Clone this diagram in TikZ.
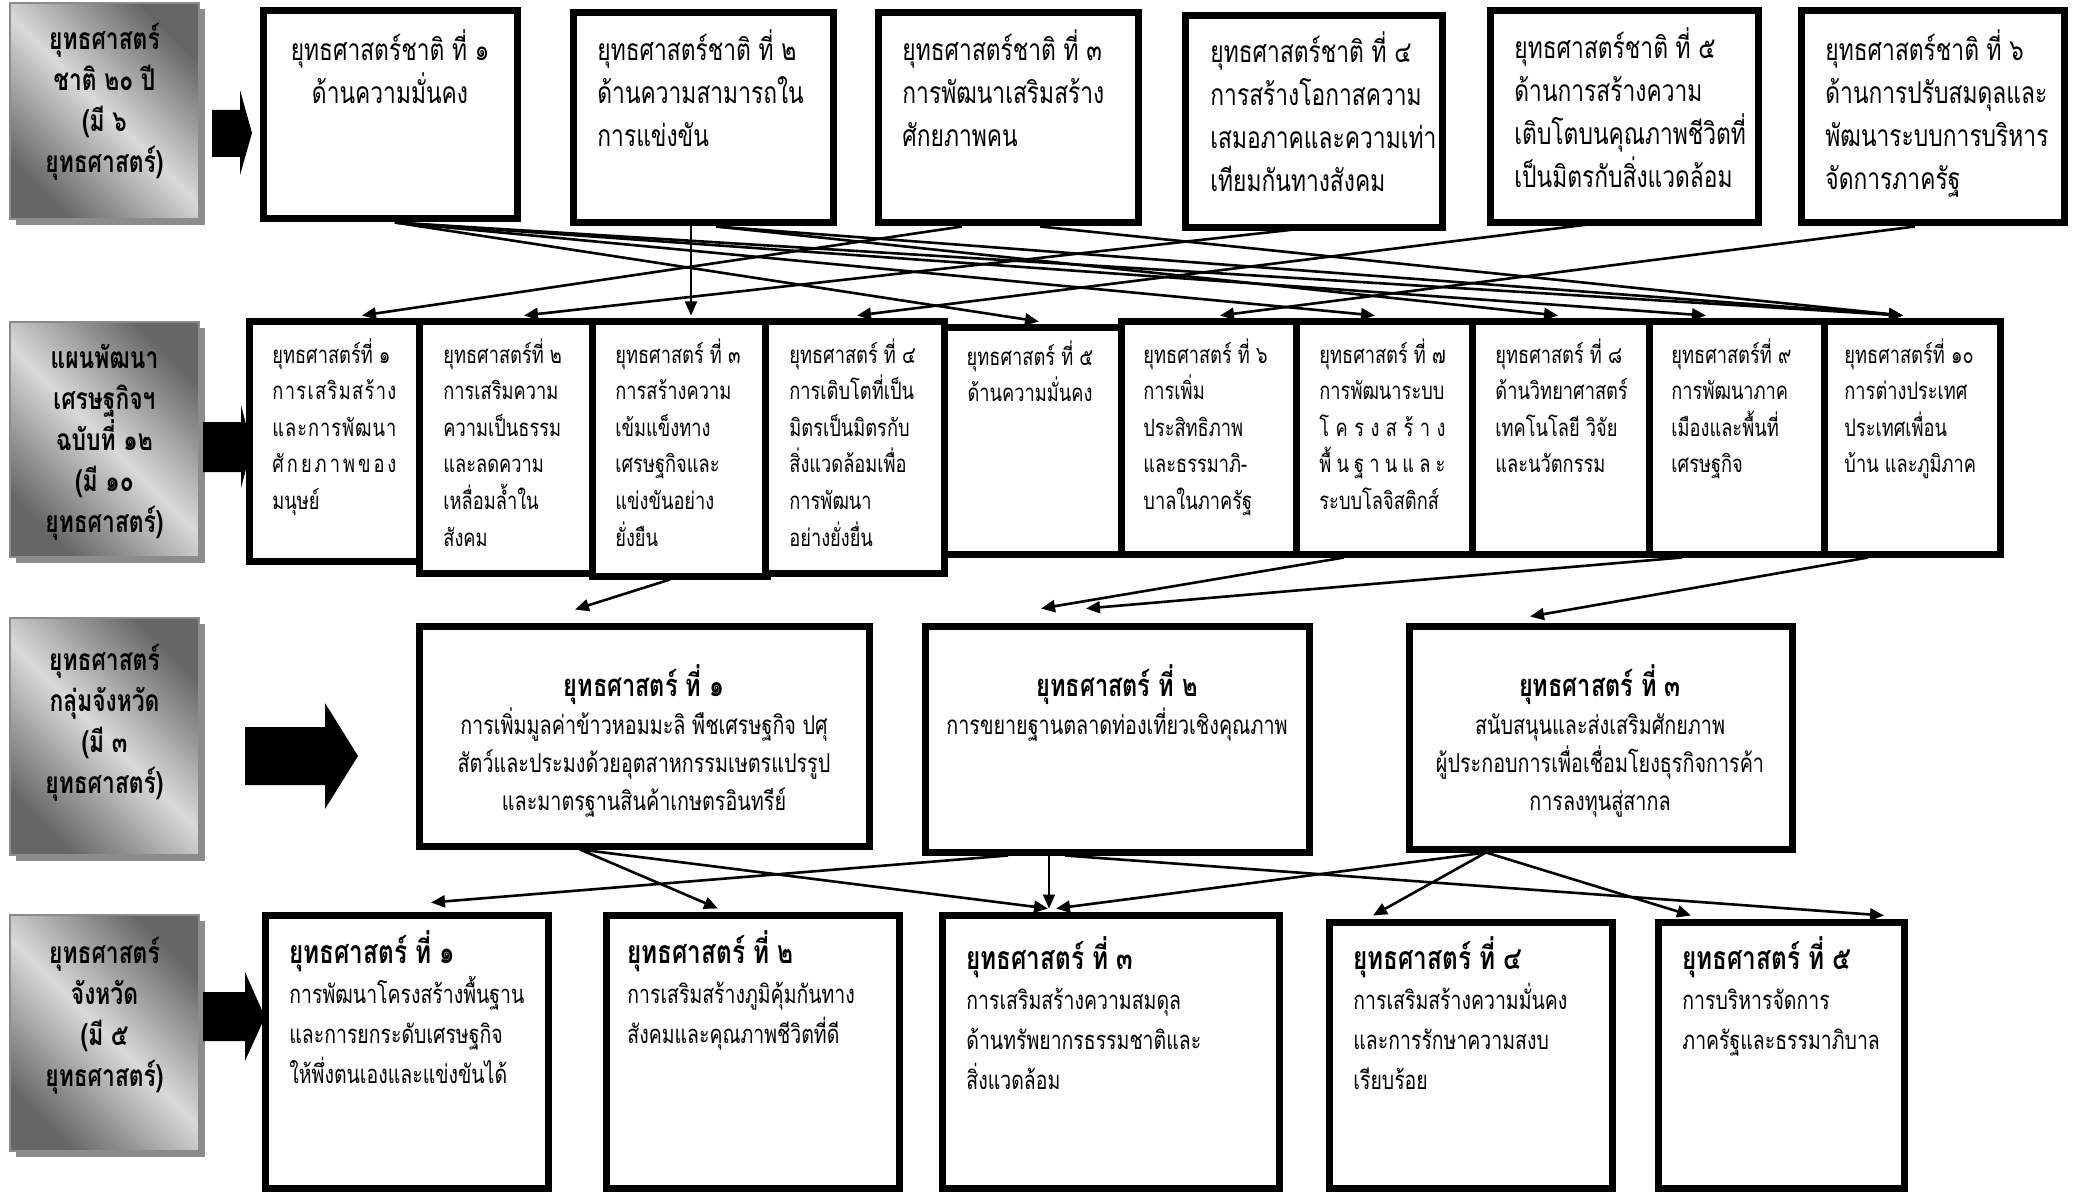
\documentclass[tikz,border=0pt]{standalone}
\usepackage{fontspec}
\newfontfamily\thai[Script=Thai,FakeStretch=0.76]{Loma}
\usetikzlibrary{arrows.meta,calc,fit,shadows}
\newcommand\jl[2]{\hbox to #1{#2}}
\newcommand\ttlA[1]{{\bfseries\fontsize{15.5}{19}\selectfont #1}}
\newcommand\ttlB[1]{{\bfseries\fontsize{16}{20}\selectfont #1}}
\begin{document}
\begin{tikzpicture}[x=0.5pt,y=-0.5pt,
  box/.style={draw=black, line width=3.5pt, fill=white, inner sep=0pt,
    drop shadow={shadow xshift=1pt, shadow yshift=-1pt, fill=black!50, opacity=1}},
  lab/.style={draw=black!45, line width=0.6pt, inner sep=0pt,
    top color=black!60, bottom color=black!60, middle color=black!15, shading angle=-45},
  labshadow/.style={fill=black!45},
  labtxt/.style={inner sep=0pt, align=center, font=\thai\bfseries\fontsize{15}{20.5}\selectfont},
  t1/.style={inner sep=0pt, anchor=north west, align=left, font=\thai\fontsize{15}{21.5}\selectfont},
  t2/.style={inner sep=0pt, anchor=north west, align=left, font=\thai\fontsize{12}{18.3}\selectfont},
  t3/.style={inner sep=0pt, anchor=north, align=center, font=\thai\fontsize{13}{19}\selectfont},
  t4/.style={inner sep=0pt, anchor=north west, align=left, font=\thai\fontsize{12.8}{20}\selectfont},
  conn/.style={line width=1.3pt, -{Triangle[length=7pt,width=6pt]}},
  thinconn/.style={line width=0.8pt, -{Triangle[length=7pt,width=6pt]}},
  blk/.style={fill=black}]
\fill[white] (0,0) rectangle (2080,1192);
\useasboundingbox (0,0) rectangle (2080,1192);

% ---- left labels ----
\fill[labshadow] (16,9) rectangle (205,225);
\fill[labshadow] (16,328) rectangle (205,563);
\fill[labshadow] (16,624) rectangle (205,861);
\fill[labshadow] (16,921) rectangle (205,1157);
\node[lab, fit={(10,3) (199,219)}] (l1) {};
\node[lab, fit={(10,322) (199,557)}] (l2) {};
\node[lab, fit={(10,618) (199,855)}] (l3) {};
\node[lab, fit={(10,915) (199,1151)}] (l4) {};
\node[labtxt] (l1t) at ($(l1)+(0,-9)$) {ยุทธศาสตร์\\ชาติ ๒๐ ปี\\(มี ๖\\ยุทธศาสตร์)};
\node[labtxt] (l2t) at ($(l2)+(0,3)$) {แผนพัฒนา\\เศรษฐกิจฯ\\ฉบับที่ ๑๒\\(มี ๑๐\\ยุทธศาสตร์)};
\node[labtxt] (l3t) at ($(l3)+(0,-14)$) {ยุทธศาสตร์\\กลุ่มจังหวัด\\(มี ๓\\ยุทธศาสตร์)};
\node[labtxt] (l4t) at ($(l4)+(0,-17)$) {ยุทธศาสตร์\\จังหวัด\\(มี ๕\\ยุทธศาสตร์)};

% ---- block arrows ----
\fill[blk] (212,110) -- (240,110) -- (240,90) -- (252,133) -- (240,175) -- (240,157) -- (212,157) -- cycle;
\fill[blk] (203,422) -- (241,422) -- (241,405) -- (252,447) -- (241,488) -- (241,472) -- (203,472) -- cycle;
\fill[blk] (245,727) -- (325,727) -- (325,703) -- (358,756) -- (325,809) -- (325,785) -- (245,785) -- cycle;
\fill[blk] (203,992) -- (245,992) -- (245,972) -- (265,1017) -- (245,1061) -- (245,1041) -- (203,1041) -- cycle;

% ---- row 1 ----
\node[box, fit={(263,11) (517,219)}] (b1) {};
\node[box, fit={(573,13) (833,223)}] (b2) {};
\node[box, fit={(878,13) (1138,223)}] (b3) {};
\node[box, fit={(1185,16) (1442,228)}] (b4) {};
\node[box, fit={(1490,11) (1758,223)}] (b5) {};
\node[box, fit={(1801,11) (2064,223)}] (b6) {};
\node[t1, anchor=north, align=center] (b1t) at (390,29) {ยุทธศาสตร์ชาติ ที่ ๑\\ด้านความมั่นคง};
\node[t1] (b2t) at (597,29) {ยุทธศาสตร์ชาติ ที่ ๒\\ด้านความสามารถใน\\การแข่งขัน};
\node[t1] (b3t) at (902,29) {ยุทธศาสตร์ชาติ ที่ ๓\\การพัฒนาเสริมสร้าง\\ศักยภาพคน};
\node[t1] (b4t) at (1210,31) {ยุทธศาสตร์ชาติ ที่ ๔\\การสร้างโอกาสความ\\เสมอภาคและความเท่า\\เทียมกันทางสังคม};
\node[t1] (b5t) at (1514,27) {ยุทธศาสตร์ชาติ ที่ ๕\\ด้านการสร้างความ\\เติบโตบนคุณภาพชีวิตที่\\เป็นมิตรกับสิ่งแวดล้อม};
\node[t1] (b6t) at (1825,29) {ยุทธศาสตร์ชาติ ที่ ๖\\ด้านการปรับสมดุลและ\\พัฒนาระบบการบริหาร\\จัดการภาครัฐ};

% ---- row 2 ----
\node[box, fit={(249,322) (422,561)}] (c1) {};
\node[box, fit={(419,322) (594,573)}] (c2) {};
\node[box, fit={(592,322) (767,576)}] (c3) {};
\node[box, fit={(765,322) (944,573)}] (c4) {};
\node[box, fit={(944,328) (1121,554)}] (c5) {};
\node[box, fit={(1121,322) (1297,554)}] (c6) {};
\node[box, fit={(1296,322) (1472,554)}] (c7) {};
\node[box, fit={(1472,322) (1649,554)}] (c8) {};
\node[box, fit={(1649,322) (1825,554)}] (c9) {};
\node[box, fit={(1824,322) (2000,554)}] (c10) {};
\node[t2] (c1t) at (272,338) {ยุทธศาสตร์ที่ ๑\\\jl{62pt}{ก\hfill า\hfill ร\hfill เ\hfill ส\hfill ริ\hfill ม\hfill ส\hfill ร้\hfill า\hfill ง}\\\jl{62pt}{แ\hfill ล\hfill ะ\hfill ก\hfill า\hfill ร\hfill พั\hfill ฒ\hfill น\hfill า}\\\jl{62pt}{ศั\hfill ก\hfill ย\hfill ภ\hfill า\hfill พ\hfill ข\hfill อ\hfill ง}\\มนุษย์};
\node[t2] (c2t) at (443,338) {ยุทธศาสตร์ที่ ๒\\การเสริมความ\\ความเป็นธรรม\\และลดความ\\เหลื่อมล้ำใน\\สังคม};
\node[t2] (c3t) at (615,338) {ยุทธศาสตร์ ที่ ๓\\การสร้างความ\\เข้มแข็งทาง\\เศรษฐกิจและ\\แข่งขันอย่าง\\ยั่งยืน};
\node[t2] (c4t) at (789,338) {ยุทธศาสตร์ ที่ ๔\\การเติบโตที่เป็น\\มิตรเป็นมิตรกับ\\สิ่งแวดล้อมเพื่อ\\การพัฒนา\\อย่างยั่งยื่น};
\node[t2, anchor=north, align=center] (c5t) at (1030,340) {ยุทธศาสตร์ ที่ ๕\\ด้านความมั่นคง};
\node[t2] (c6t) at (1143,338) {ยุทธศาสตร์ ที่ ๖\\การเพิ่ม\\ประสิทธิภาพ\\และธรรมาภิ-\\บาลในภาครัฐ};
\node[t2] (c7t) at (1319,338) {ยุทธศาสตร์ ที่ ๗\\การพัฒนาระบบ\\\jl{63pt}{โ\hfill ค\hfill ร\hfill ง\hfill ส\hfill ร้\hfill า\hfill ง}\\\jl{63pt}{พื้\hfill น\hfill ฐ\hfill า\hfill น\hfill แ\hfill ล\hfill ะ}\\ระบบโลจิสติกส์};
\node[t2] (c8t) at (1495,338) {ยุทธศาสตร์ ที่ ๘\\ด้านวิทยาศาสตร์\\เทคโนโลยี วิจัย\\และนวัตกรรม};
\node[t2] (c9t) at (1671,338) {ยุทธศาสตร์ที่ ๙\\การพัฒนาภาค\\เมืองและพื้นที่\\เศรษฐกิจ};
\node[t2] (c10t) at (1844,338) {ยุทธศาสตร์ที่ ๑๐\\การต่างประเทศ\\ประเทศเพื่อน\\บ้าน และภูมิภาค};

% ---- row 3 ----
\node[box, fit={(419,626) (869,846)}] (d1) {};
\node[box, fit={(925,626) (1309,852)}] (d2) {};
\node[box, fit={(1409,626) (1792,849)}] (d3) {};
\node[t3] (d1t) at (644,664) {\ttlA{ยุทธศาสตร์ ที่ ๑}\\การเพิ่มมูลค่าข้าวหอมมะลิ พืชเศรษฐกิจ ปศุ\\สัตว์และประมงด้วยอุตสาหกรรมเษตรแปรรูป\\และมาตรฐานสินค้าเกษตรอินทรีย์};
\node[t3] (d2t) at (1117,664) {\ttlA{ยุทธศาสตร์ ที่ ๒}\\การขยายฐานตลาดท่องเที่ยวเชิงคุณภาพ};
\node[t3] (d3t) at (1600,664) {\ttlA{ยุทธศาสตร์ ที่ ๓}\\สนับสนุนและส่งเสริมศักยภาพ\\ผู้ประกอบการเพื่อเชื่อมโยงธุรกิจการค้า\\การลงทุนสู่สากล};

% ---- row 4 ----
\node[box, fit={(265,915) (548,1188)}] (e1) {};
\node[box, fit={(606,915) (899,1188)}] (e2) {};
\node[box, fit={(942,915) (1279,1188)}] (e3) {};
\node[box, fit={(1329,922) (1612,1188)}] (e4) {};
\node[box, fit={(1658,922) (1904,1188)}] (e5) {};
\node[t4] (e1t) at (289,930) {\ttlB{ยุทธศาสตร์ ที่ ๑}\\การพัฒนาโครงสร้างพื้นฐาน\\และการยกระดับเศรษฐกิจ\\ให้พึ่งตนเองและแข่งขันได้};
\node[t4] (e2t) at (627,930) {\ttlB{ยุทธศาสตร์ ที่ ๒}\\การเสริมสร้างภูมิคุ้มกันทาง\\สังคมและคุณภาพชีวิตที่ดี};
\node[t4] (e3t) at (966,936) {\ttlB{ยุทธศาสตร์ ที่ ๓}\\การเสริมสร้างความสมดุล\\ด้านทรัพยากรธรรมชาติและ\\สิ่งแวดล้อม};
\node[t4] (e4t) at (1353,936) {\ttlB{ยุทธศาสตร์ ที่ ๔}\\การเสริมสร้างความมั่นคง\\และการรักษาความสงบ\\เรียบร้อย};
\node[t4] (e5t) at (1682,936) {\ttlB{ยุทธศาสตร์ ที่ ๕}\\การบริหารจัดการ\\ภาครัฐและธรรมาภิบาล};

% ---- connectors row 1 -> row 2 ----
\draw[conn] ($(b1.south)+(5,0)$) -- ($(c5.north)+(6.5,-3)$);
\draw[conn] ($(b1.south)+(5,0)$) -- ($(c7.north)+(-9,-3)$);
\draw[conn] ($(b1.south)+(5,0)$) -- ($(c9.north)+(-31,-3)$);
\draw[conn] ($(b1.south)+(5,0)$) -- ($(c10.north)+(-9,-3)$);
\draw[thinconn] ($(b2.south)+(-12,0)$) -- ($(c3.north)+(11.5,-3)$);
\draw[conn] ($(b2.south)+(13,0)$) -- ($(c8.north)+(-2.5,-3)$);
\draw[conn] ($(b2.south)+(13,0)$) -- ($(c10.north)+(-9,-3)$);
\draw[conn] ($(b3.south)+(-46,0)$) -- ($(c1.north)+(26.5,-3)$);
\draw[conn] ($(b3.south)+(32,0)$) -- ($(c10.north)+(-9,-3)$);
\draw[conn] ($(b4.south)+(16.5,-6)$) -- ($(c2.north)+(17.5,-3)$);
\draw[conn] ($(b5.south)+(-4,-6)$) -- ($(c4.north)+(2.5,-3)$);
\draw[conn] ($(b6.south)+(-17.5,0)$) -- ($(c6.north)+(11,-3)$);

% ---- connectors row 2 -> row 3 ----
\draw[conn] ($(c3.south)+(-9.5,0)$) -- ($(d1.north)+(-69,-13)$);
\draw[conn] ($(c7.south)+(-40,0)$) -- ($(d2.north)+(-76,-14)$);
\draw[conn] ($(c9.south)+(-55,0)$) -- ($(d2.north)+(-31,-14)$);
\draw[conn] ($(c10.south)+(-44,0)$) -- ($(d3.north)+(-70.5,-6)$);

% ---- connectors row 3 -> row 4 ----
\draw[conn] ($(d1.south)+(-64,0)$) -- ($(e2.north)+(-34.5,-3)$);
\draw[conn] ($(d1.south)+(-64,0)$) -- ($(e3.north)+(-62.5,-3)$);
\draw[conn] ($(d2.south)+(-109,0)$) -- ($(e1.north)+(24.5,-9)$);
\draw[thinconn] ($(d2.south)+(-68,0)$) -- ($(e3.north)+(-61.5,-3)$);
\draw[conn] ($(d2.south)+(-52,0)$) -- ($(e5.north)+(103,-3)$);
\draw[conn] ($(d3.south)+(-114.5,0)$) -- ($(e3.north)+(-54.5,-3)$);
\draw[conn] ($(d3.south)+(-114.5,0)$) -- ($(e4.north)+(-97.5,-3)$);
\draw[conn] ($(d3.south)+(-114.5,0)$) -- ($(e5.north)+(-90,-3)$);
\end{tikzpicture}
\end{document}
